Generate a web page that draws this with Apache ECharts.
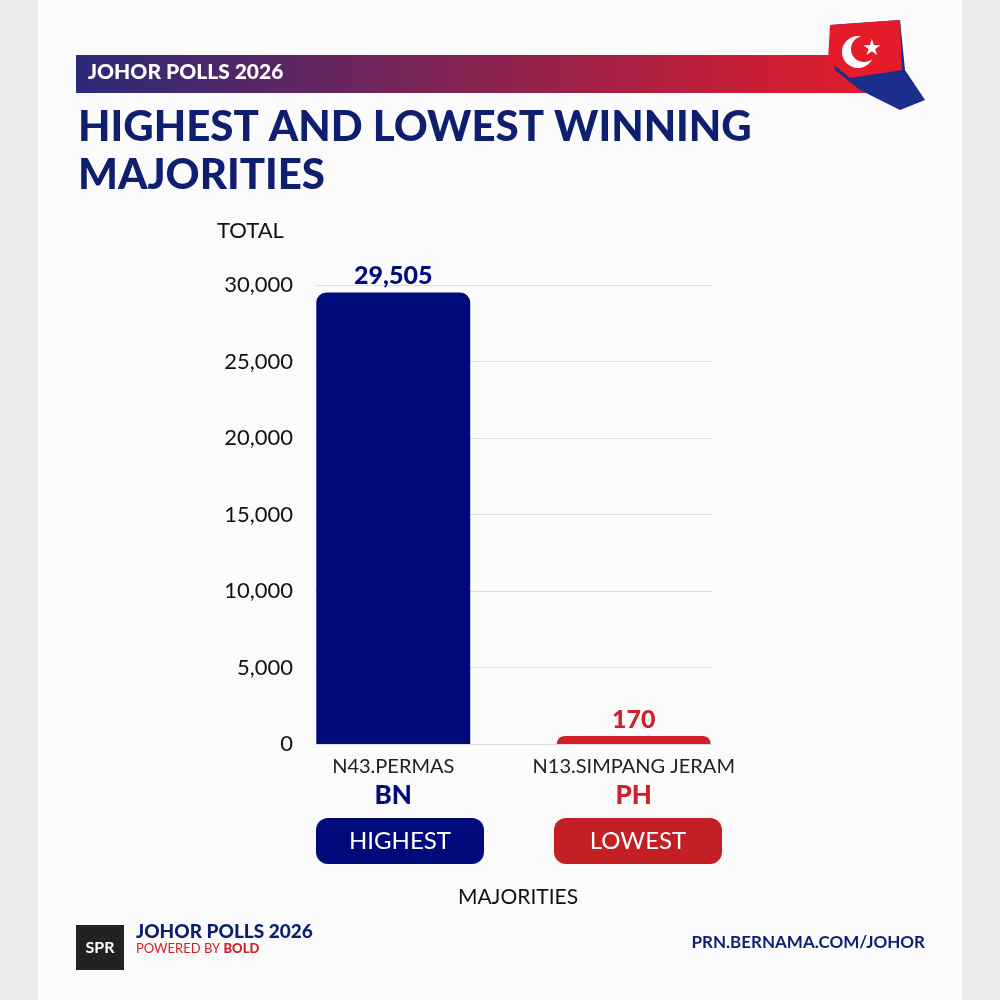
<!DOCTYPE html>
<html><head><meta charset="utf-8">
<script src="https://cdn.jsdelivr.net/npm/echarts@6/dist/echarts.min.js"></script>
<style>html,body{margin:0;padding:0;background:#ececec}#c{width:1000px;height:1000px}</style>
</head><body><div id="c"></div>
<script>
const seats = ['N43.PERMAS', 'N13.SIMPANG JERAM']
const parties = ['BN', 'PH']
const majorities = [29505, 170]
const barColors = ['#000a7a', '#d0202a']
const yTicks = [0, 5000, 10000, 15000, 20000, 25000, 30000]

const chart = echarts.init(document.getElementById('c'))
const navy = '#0d1f6e'
const font = 'Lato'

chart.setOption({
  backgroundColor: '#ececec',
  graphic: [
    { type: 'rect', shape: { x: 38, y: 0, width: 924, height: 1000 }, style: { fill: '#fbfbfb' }, z: -10 },
    { type: 'rect', shape: { x: 76, y: 55, width: 800, height: 38 },
      style: { fill: new echarts.graphic.LinearGradient(0, 0, 1, 0, [{ offset: 0, color: '#2b2a78' }, { offset: 1, color: '#e41c2a' }]) } },
    { type: 'text', left: 88, top: 62, style: { text: 'JOHOR POLLS 2026', fill: '#fff', font: '900 21px ' + font } },
    { type: 'text', left: 78, top: 103, style: { text: 'HIGHEST AND LOWEST WINNING\nMAJORITIES', fill: navy, font: '900 42px ' + font, lineHeight: 48 } },
    // simple flag/map mark
    { type: 'polygon', shape: { points: [[830, 25], [900, 20], [905, 70], [925, 100], [900, 110], [860, 90], [835, 70]] }, style: { fill: '#1b2f8a' } },
    { type: 'polygon', shape: { points: [[830, 25], [900, 20], [902, 70], [850, 78], [828, 60]] }, style: { fill: '#e41c2a' } },
    { type: 'circle', shape: { cx: 858, cy: 52, r: 16 }, style: { fill: '#fff' } },
    { type: 'circle', shape: { cx: 864, cy: 49, r: 13 }, style: { fill: '#e41c2a' } },
    { type: 'text', left: 862, top: 38, style: { text: '★', fill: '#fff', font: '22px DejaVu Sans' } },
    { type: 'text', left: 217, top: 220, style: { text: 'TOTAL', fill: '#111', font: '22px ' + font } },
    // pills
    { type: 'rect', shape: { x: 316, y: 818, width: 168, height: 46, r: 12 }, style: { fill: '#000a7a' } },
    { type: 'text', x: 400, y: 841, style: { text: 'HIGHEST', fill: '#fff', font: '24px ' + font, align: 'center', verticalAlign: 'middle' } },
    { type: 'rect', shape: { x: 554, y: 818, width: 168, height: 46, r: 12 }, style: { fill: '#c41f24' } },
    { type: 'text', x: 638, y: 841, style: { text: 'LOWEST', fill: '#fff', font: '24px ' + font, align: 'center', verticalAlign: 'middle' } },
    { type: 'text', x: 518, y: 897, style: { text: 'MAJORITIES', fill: '#111', font: '21px ' + font, align: 'center', verticalAlign: 'middle' } },
    // footer
    { type: 'rect', shape: { x: 76, y: 925, width: 48, height: 45 }, style: { fill: '#222' } },
    { type: 'text', x: 100, y: 948, style: { text: 'SPR', fill: '#fff', font: 'bold 16px ' + font, align: 'center', verticalAlign: 'middle' } },
    { type: 'text', left: 136, top: 922, style: { text: 'JOHOR POLLS 2026', fill: navy, font: '900 19px ' + font } },
    { type: 'text', left: 136, top: 942, style: { rich: { a: { fill: '#d0202a', font: '13px ' + font }, b: { fill: '#d0202a', font: '900 13px ' + font } }, text: '{a|POWERED BY }{b|BOLD}' } },
    { type: 'text', x: 925, y: 943, style: { text: 'PRN.BERNAMA.COM/JOHOR', fill: navy, font: 'bold 17px ' + font, align: 'right', verticalAlign: 'middle' } }
  ],
  grid: { left: 273, right: 246, top: 285, bottom: 256, containLabel: false },
  xAxis: {
    type: 'category', data: seats,
    axisLine: { show: false }, axisTick: { show: false },
    axisLabel: {
      interval: 0, margin: 10, lineHeight: 26,
      formatter: (v, i) => v + '\n{p' + i + '|' + parties[i] + '}',
      color: '#222', fontSize: 20, fontFamily: font,
      rich: {
        p0: { color: '#000a7a', fontSize: 26, fontWeight: 900, fontFamily: font, lineHeight: 32 },
        p1: { color: '#d0202a', fontSize: 26, fontWeight: 900, fontFamily: font, lineHeight: 32 }
      }
    }
  },
  yAxis: {
    type: 'value', min: 0, max: 30000, interval: 5000,
    axisLine: { show: false }, axisTick: { show: false },
    axisLabel: { formatter: v => yTicks.includes(v) ? v.toLocaleString('en-US') : '', color: '#111', fontSize: 22, fontFamily: font, margin: -20 },
    splitLine: { show: false }
  },
  series: [{
    type: 'bar', barWidth: '64%', barMinHeight: 8,
    data: majorities.map((v, i) => ({ value: v, itemStyle: { color: barColors[i], borderRadius: [10, 10, 0, 0] } })),
    label: {
      show: true, position: 'top', distance: 4, fontSize: 25, fontWeight: 900, fontFamily: font,
      formatter: p => p.value.toLocaleString('en-US'),
      color: 'inherit'
    },
    markLine: {
      silent: true, symbol: 'none', label: { show: false },
      lineStyle: { color: '#dcdcdc', type: 'solid', width: 1 },
      data: yTicks.map(t => [{ x: 315, yAxis: t }, { x: 712, yAxis: t }]),
      z: -1
    }
  }]
})
</script></body></html>
